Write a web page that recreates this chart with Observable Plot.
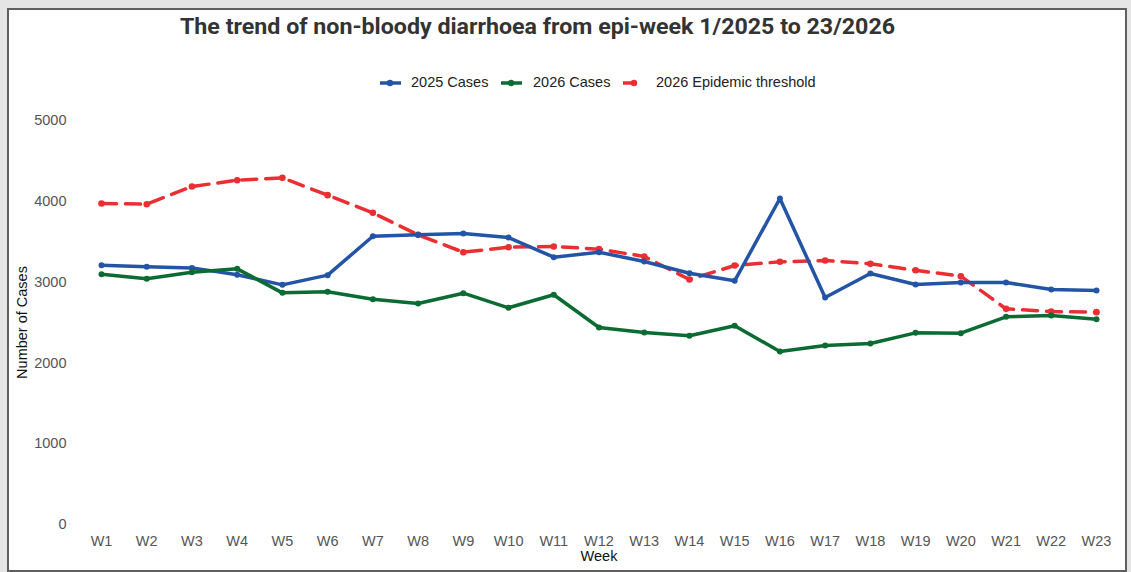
<!DOCTYPE html>
<html>
<head>
<meta charset="utf-8">
<script src="https://cdn.jsdelivr.net/npm/d3@7"></script>
<script src="https://cdn.jsdelivr.net/npm/@observablehq/plot@0.6"></script>
<style>
  html, body { margin: 0; padding: 0; }
  body { width: 1131px; height: 572px; background: #e4e5e4; position: relative; overflow: hidden; font-family: "Liberation Sans", Arial, sans-serif; }
  #frame { position: absolute; left: 7px; top: 8px; width: 1116px; height: 560px; border: 2px solid #5f5f5f; background: #fff; }
  #title { position: absolute; left: 180px; top: 14px; white-space: nowrap; font-family: Roboto, "Open Sans", sans-serif; font-weight: 700; font-size: 22px; color: #333; transform-origin: 0 0; }
  .leg { position: absolute; top: 74px; font-size: 14.5px; color: #222; white-space: nowrap; }
  .sym { position: absolute; top: 77px; }
  #chart { position: absolute; left: 0; top: 100px; }
  #chart svg { background: transparent; overflow: visible; }
</style>
</head>
<body>
<div id="frame"></div>
<div id="title">The trend of non-bloody diarrhoea from epi-week 1/2025 to 23/2026</div>
<div id="legend"></div>
<div id="chart"></div>
<script>
const weeks = ["W1","W2","W3","W4","W5","W6","W7","W8","W9","W10","W11","W12","W13","W14","W15","W16","W17","W18","W19","W20","W21","W22","W23"];
const cases2025 = [3209,3189,3176,3090,2966,3086,3568,3585,3601,3552,3308,3370,3255,3110,3016,4035,2809,3106,2970,2995,2995,2908,2896];
const cases2026 = [3098,3041,3123,3164,2867,2880,2788,2735,2863,2682,2843,2438,2376,2335,2459,2141,2215,2240,2372,2368,2570,2587,2541];
const threshold2026 = [3973,3964,4183,4261,4290,4076,3857,3585,3370,3432,3441,3408,3317,3032,3205,3251,3267,3226,3147,3073,2669,2636,2628];
const yTicks = [0,1000,2000,3000,4000,5000];
const seriesNames = ["2025 Cases","2026 Cases","2026 Epidemic threshold"];
const colors = ["#2354a6","#0c6a33","#ea2f33"];

const rows = (vals) => weeks.map((w, i) => ({week: w, value: vals[i]}));
const d2025 = rows(cases2025), d2026 = rows(cases2026), dThr = rows(threshold2026);

// title width fit
const t = document.getElementById("title");
const tw = t.getBoundingClientRect().width;
t.style.transform = `scaleX(${715 / tw})`;

// legend
const legendPos = [
  {sx: 380, tx: 411, line: [380, 401], dot: 390},
  {sx: 501, tx: 533, line: [501, 522], dot: 511},
  {sx: 622, tx: 656, line: [623, 633], dot: 634}
];
const legend = document.getElementById("legend");
seriesNames.forEach((name, i) => {
  const p = legendPos[i];
  const s = document.createElementNS("http://www.w3.org/2000/svg", "svg");
  s.setAttribute("class", "sym");
  s.setAttribute("width", 30); s.setAttribute("height", 12);
  s.style.left = (p.sx - 2) + "px";
  const off = p.sx - 2;
  s.innerHTML = `<line x1="${p.line[0]-off}" x2="${p.line[1]-off}" y1="6" y2="6" stroke="${colors[i]}" stroke-width="3.5"/>` +
                `<circle cx="${p.dot-off}" cy="6" r="3.2" fill="${colors[i]}"/>`;
  legend.appendChild(s);
  const tx = document.createElement("div");
  tx.className = "leg";
  tx.style.left = p.tx + "px";
  tx.textContent = name;
  legend.appendChild(tx);
});

const chart = Plot.plot({
  width: 1131,
  height: 472,
  marginLeft: 101,
  marginRight: 35,
  marginTop: 20,
  marginBottom: 48,
  style: {fontFamily: "'Liberation Sans', Arial, sans-serif", fontSize: "14px", background: "transparent", overflow: "visible"},
  x: {type: "point", domain: weeks, padding: 0, round: false, label: "Week"},
  y: {domain: [0, 5000], label: "Number of Cases"},
  marks: [
    Plot.axisX({tickSize: 0, tickPadding: 11, fill: "#555", fontSize: 14.5, label: null}),
    Plot.axisX({tickSize: 0, ticks: [], label: "Week", labelAnchor: "center", labelArrow: "none", labelOffset: 36, fill: "#111", fontSize: 14.5}),
    Plot.axisY({ticks: yTicks, tickSize: 0, tickPadding: 35, fill: "#555", fontSize: 14.5, tickFormat: d => String(d), label: null}),
    Plot.axisY({ticks: [], tickSize: 0, label: "Number of Cases", labelAnchor: "center", labelArrow: "none", labelOffset: 85, fill: "#111", fontSize: 14.5}),
    Plot.line(dThr, {x: "week", y: "value", stroke: colors[2], strokeWidth: 3.5, strokeDasharray: "15,9"}),
    Plot.dot(dThr, {x: "week", y: "value", r: 3.3, fill: colors[2]}),
    Plot.line(d2025, {x: "week", y: "value", stroke: colors[0], strokeWidth: 3.5}),
    Plot.dot(d2025, {x: "week", y: "value", r: 3, fill: colors[0]}),
    Plot.line(d2026, {x: "week", y: "value", stroke: colors[1], strokeWidth: 3.5}),
    Plot.dot(d2026, {x: "week", y: "value", r: 3, fill: colors[1]})
  ]
});
document.getElementById("chart").appendChild(chart);
</script>
</body>
</html>
